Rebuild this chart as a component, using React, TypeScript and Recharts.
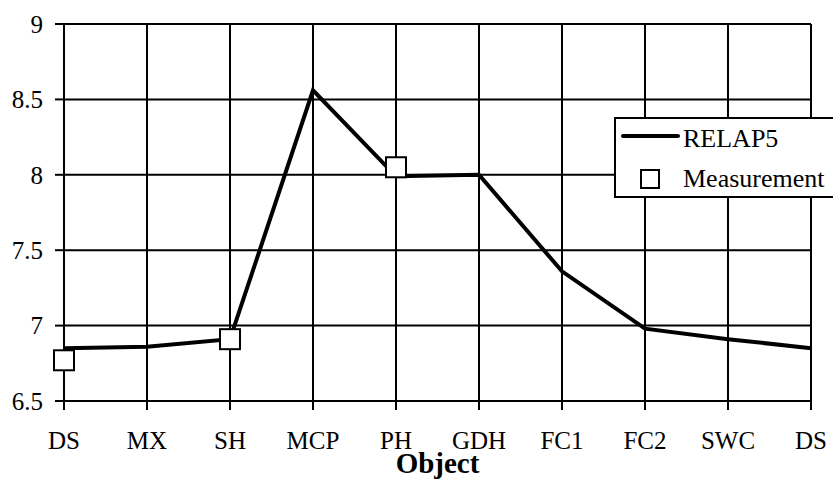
import React from 'react';
import { LineChart, Line, XAxis, YAxis, CartesianGrid } from 'recharts';

const categories = ['DS', 'MX', 'SH', 'MCP', 'PH', 'GDH', 'FC1', 'FC2', 'SWC', 'DS'];
const relap5 = [6.85, 6.86, 6.91, 8.56, 7.99, 8.0, 7.36, 6.98, 6.91, 6.85];
const measurement: (number | null)[] = [6.77, null, 6.91, null, 8.05, null, null, null, null, null];
const yTicks = [6.5, 7, 7.5, 8, 8.5, 9];
const seriesNames = ['RELAP5', 'Measurement'];

const data = categories.map((name, i) => ({
  name,
  RELAP5: relap5[i],
  Measurement: measurement[i],
}));

const FONT = '"Liberation Serif", "Times New Roman", serif';

const SquareDot = (props: any) => {
  const { cx, cy, value, index } = props;
  if (value == null || cx == null || cy == null) return <g key={`e${index}`} />;
  return (
    <rect key={`s${index}`} x={cx - 10} y={cy - 10} width={20} height={20} fill="#fff" stroke="#000" strokeWidth={2} />
  );
};

const LegendBox = () => (
  <svg width={240} height={81} style={{ position: 'absolute', left: 614, top: 117 }}>
    <rect x={1} y={1} width={238} height={79} fill="#fff" stroke="#000" strokeWidth={2} />
    <line x1={9} x2={64} y1={19} y2={19} stroke="#000" strokeWidth={4} strokeLinecap="round" />
    <text x={69} y={30} fontFamily={FONT} fontSize={26} fill="#000">{seriesNames[0]}</text>
    <rect x={27} y={53} width={18} height={18} fill="#fff" stroke="#000" strokeWidth={2} />
    <text x={69} y={70} fontFamily={FONT} fontSize={26} fill="#000">{seriesNames[1]}</text>
  </svg>
);

export default function App() {
  return (
    <div style={{ position: 'absolute', left: 0, top: 0, width: 833, height: 479, background: '#fff', overflow: 'hidden' }}>
      <LineChart width={833} height={479} data={data} margin={{ top: 24, right: 22, left: 0, bottom: 0 }}>
        <CartesianGrid stroke="#000" strokeWidth={2} strokeDasharray="" />
        <XAxis
          dataKey="name"
          allowDuplicatedCategory={true}
          height={78}
          tickSize={9}
          tickMargin={21}
          axisLine={{ stroke: '#000', strokeWidth: 2 }}
          tickLine={{ stroke: '#000', strokeWidth: 2 }}
          tick={{ fill: '#000', fontSize: 25, fontFamily: FONT }}
          interval={0}
          label={{ value: 'Object', position: 'insideBottom', offset: 6, fill: '#000', fontSize: 29, fontWeight: 'bold', fontFamily: FONT }}
        />
        <YAxis
          width={64}
          domain={[6.5, 9]}
          ticks={yTicks}
          tickSize={9}
          tickMargin={12}
          axisLine={{ stroke: '#000', strokeWidth: 2 }}
          tickLine={{ stroke: '#000', strokeWidth: 2 }}
          tick={{ fill: '#000', fontSize: 25, fontFamily: FONT }}
        />
        <Line type="linear" dataKey="RELAP5" name={seriesNames[0]} stroke="#000" strokeWidth={4} dot={false} isAnimationActive={false} />
        <Line type="linear" dataKey="Measurement" name={seriesNames[1]} stroke="none" dot={SquareDot} activeDot={false} isAnimationActive={false} />
      </LineChart>
      <LegendBox />
    </div>
  );
}
